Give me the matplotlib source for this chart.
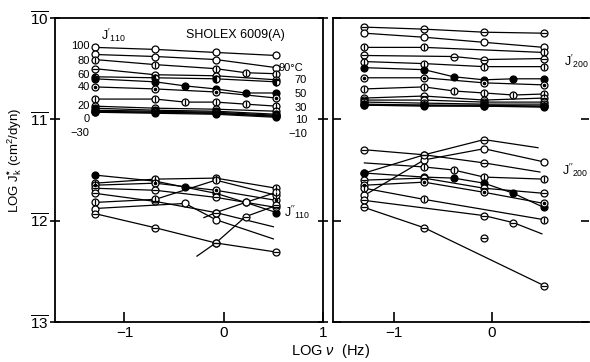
import numpy as np
import matplotlib
matplotlib.use("Agg")
import matplotlib.pyplot as plt

plt.rcParams['font.family'] = ['Liberation Sans', 'DejaVu Sans']
plt.rcParams['mathtext.fontset'] = 'custom'
plt.rcParams['mathtext.rm'] = 'Liberation Sans'
plt.rcParams['mathtext.it'] = 'Liberation Sans:italic'
plt.rcParams['mathtext.bf'] = 'Liberation Sans:bold'
plt.rcParams['axes.unicode_minus'] = True

nan = np.nan

# measuring frequencies (log Hz), shared by both panels
log_nu = [-1.30, -0.69, -0.39, -0.08, 0.22, 0.53]

# ---- J'110 (storage, left top), one row per temperature
temps_110 = [100, 90, 80, 70, 60, 50, 40, 30, 20, 10, 0, -10, -20, -30]
jp110 = [
    [-10.29, -10.31, nan, -10.34, nan, -10.37],
    [-10.36, -10.38, nan, -10.41, nan, -10.49],
    [-10.41, -10.46, nan, -10.50, -10.54, -10.55],
    [-10.50, -10.56, nan, -10.57, nan, -10.61],
    [-10.58, -10.59, nan, -10.60, nan, -10.63],
    [-10.60, -10.63, -10.67, -10.70, -10.74, -10.74],
    [-10.68, -10.70, nan, -10.73, nan, -10.79],
    [-10.80, -10.80, -10.83, -10.83, -10.85, -10.87],
    [-10.87, -10.89, nan, -10.90, nan, -10.92],
    [-10.89, -10.91, nan, -10.92, nan, -10.95],
    [-10.91, -10.92, nan, -10.93, nan, -10.96],
    [-10.92, -10.93, nan, -10.94, nan, -10.97],
    [-10.93, -10.93, nan, -10.94, nan, -10.97],
    [-10.93, -10.94, nan, -10.95, nan, -10.98],
]
jp110_kind = ['o', 'o', 'v', 'h', 'l', 'f', 'd', 'v', 'h', 'f', 'l', 'f', 'o', 'f']
left_labels = ['100', '80', '60', '40', '20', '0', '\u221230']
left_label_y = [-10.28, -10.42, -10.56, -10.68, -10.87, -11.00, -11.13]
right_labels = ['70', '50', '30', '10', '\u221210']
right_label_y = [-10.61, -10.75, -10.89, -11.01, -11.14]

# ---- J''110 (loss, left bottom): (log nu, log J'') per curve
jpp110 = [
    ([-1.30, -0.69, -0.39, -0.08, 0.22, 0.53], [-11.55, -11.61, -11.67, -11.73, -11.82, -11.92]),
    ([-1.30, -0.69, -0.08, 0.53], [-11.63, -11.59, -11.58, -11.68]),
    ([-1.30, -0.69, -0.08, 0.53], [-11.65, -11.63, -11.70, -11.80]),
    ([-1.30, -0.69, -0.08, 0.53], [-11.68, -11.70, -11.77, -11.87]),
    ([-1.30, -0.69, -0.08, 0.50], [-11.73, -11.81, -11.92, -12.06]),
    ([-1.30, -0.69, -0.08, 0.53], [-11.82, -11.79, -11.60, -11.75]),
    ([-1.30, -0.39, -0.08, 0.50], [-11.88, -11.83, -11.99, -12.18]),
    ([-1.30, -0.69, -0.08, 0.53], [-11.93, -12.07, -12.22, -12.31]),
    ([-0.20, -0.08, 0.22, 0.53], [-11.97, -11.92, -11.82, -11.72]),
    ([-0.27, -0.08, 0.22, 0.53], [-12.35, -12.22, -11.96, -11.85]),
]
jpp110_kind = ['f', 'v', 'd', 'h', 'h', 'v', 'o', 'h', 'o', 'h']
jpp110_bare = [[], [], [], [], [3], [], [3], [], [0], [0]]

# ---- J'200 (storage, right top)
jp200 = [
    [-10.09, -10.11, nan, -10.14, nan, -10.15],
    [-10.15, -10.19, nan, -10.24, nan, -10.29],
    [-10.29, -10.29, nan, nan, nan, -10.34],
    [-10.37, nan, -10.38, -10.41, nan, -10.40],
    [-10.43, -10.45, nan, -10.48, nan, -10.48],
    [-10.49, -10.51, -10.58, -10.61, -10.60, -10.60],
    [-10.59, -10.59, nan, -10.64, nan, -10.66],
    [-10.70, -10.68, -10.72, -10.74, -10.76, -10.75],
    [-10.79, -10.77, nan, -10.81, nan, -10.79],
    [-10.81, -10.81, nan, -10.83, nan, -10.83],
    [-10.83, -10.84, nan, -10.85, nan, -10.85],
    [-10.85, -10.86, nan, -10.86, nan, -10.87],
    [-10.86, -10.86, nan, -10.87, nan, -10.87],
    [-10.86, -10.87, nan, -10.87, nan, -10.88],
]
jp200_kind = ['h', 'o', 'v', 'h', 'v', 'f', 'd', 'v', 'h', 'o', 'v', 'f', 'h', 'f']

# ---- J''200 (loss, right bottom)
jpp200 = [
    ([-1.30, -0.69, -0.08, 0.47], [-11.53, -11.35, -11.20, -11.28]),
    ([-1.30, -0.69, -0.08, 0.53], [-11.75, -11.40, -11.29, -11.42]),
    ([-1.30, -0.69, -0.08, 0.49], [-11.30, -11.35, -11.43, -11.52]),
    ([-1.30, -0.69, -0.39, -0.08, 0.53], [-11.43, -11.47, -11.50, -11.57, -11.59]),
    ([-1.30, -0.69, -0.39, -0.08, 0.22, 0.53], [-11.53, -11.57, -11.58, -11.63, -11.73, -11.87]),
    ([-1.30, -0.69, -0.08, 0.53], [-11.60, -11.58, -11.68, -11.73]),
    ([-1.30, -0.69, -0.08, 0.53], [-11.65, -11.62, -11.72, -11.83]),
    ([-1.30, -0.69, 0.53], [-11.68, -11.79, -11.99]),
    ([-1.30, -0.08, 0.22, 0.51], [-11.80, -11.95, -12.02, -12.13]),
    ([-1.30, -0.69, 0.53], [-11.87, -12.07, -12.64]),
    ([-0.08], [-12.17]),
]
jpp200_kind = ['h', 'o', 'h', 'v', 'f', 'h', 'd', 'v', 'h', 'h', 'h']
jpp200_bare = [[3], [], [3], [0], [], [], [], [], [3], [], []]


def draw_curve(ax, x, y, kind, bare=()):
    x = np.asarray(x, float)
    y = np.asarray(y, float)
    ok = ~np.isnan(y)
    if ok.sum() > 1:
        ax.plot(x[ok], y[ok], '-', color='k', lw=0.9, zorder=2)
    m = ok & np.array([i not in bare for i in range(len(x))])
    xm, ym = x[m], y[m]
    ms = 5.0
    if kind == 'l':
        ax.plot(xm, ym, ls='none', marker='o', ms=ms, fillstyle='left',
                mfc='k', mfcalt='white', mec='k', mew=0.9, zorder=3)
        return
    face = 'k' if kind == 'f' else 'white'
    ax.plot(xm, ym, ls='none', marker='o', ms=ms, mfc=face, mec='k', mew=0.9, zorder=3)
    if kind == 'v':
        ax.plot(xm, ym, ls='none', marker='|', ms=ms, color='k', mew=0.9, zorder=4)
    elif kind == 'h':
        ax.plot(xm, ym, ls='none', marker='_', ms=ms, color='k', mew=0.9, zorder=4)
    elif kind == 'd':
        ax.plot(xm, ym, ls='none', marker='o', ms=1.6, color='k', zorder=4)


fig = plt.figure(figsize=(5.9, 3.62), dpi=100)
ax1 = fig.add_axes([55 / 590, 40 / 362, 268 / 590, 304 / 362])
ax2 = fig.add_axes([333 / 590, 40 / 362, 256 / 590, 304 / 362])

for ax in (ax1, ax2):
    ax.set_ylim(-13, -10)
    for s in ax.spines.values():
        s.set_linewidth(1.3)
    ax.tick_params(axis='x', direction='in', length=7, width=1.2, pad=3, labelsize=11)
    ax.tick_params(axis='y', direction='in', length=6, width=1.2, right=True)

ax2.spines['right'].set_visible(False)

ax1.set_xlim(-1.70, 1.0)
ax2.set_xlim(-1.62, 0.99)
ax1.set_xticks([-1, 0, 1])
ax1.set_xticklabels(['\u22121', '0', '1'])
ax2.set_xticks([-1, 0])
ax2.set_xticklabels(['\u22121', '0'])

ax1.set_yticks([-13, -12, -11, -10])
ax1.set_yticklabels([r'$\overline{13}$', r'$\overline{12}$', r'$\overline{11}$', r'$\overline{10}$'])
ax1.tick_params(axis='y', direction='inout', length=7, labelsize=11, pad=1)
ax2.set_yticks([-13, -12, -11, -10])
ax2.set_yticklabels([])

# left panel
for row, kind in zip(jp110, jp110_kind):
    draw_curve(ax1, log_nu, row, kind)
for (x, y), kind, bare in zip(jpp110, jpp110_kind, jpp110_bare):
    draw_curve(ax1, x, y, kind, bare)

for lab, yy in zip(left_labels, left_label_y):
    ax1.text(-1.35, yy, lab, ha='right', va='center', fontsize=8)
for lab, yy in zip(right_labels, right_label_y):
    ax1.text(0.84, yy, lab, ha='right', va='center', fontsize=8)
ax1.text(0.55, -10.49, '90\u00b0C', ha='left', va='center', fontsize=8)
ax1.text(-1.24, -10.17, r"$\mathregular{J'_{110}}$", ha='left', va='center', fontsize=9)
ax1.text(-0.38, -10.17, 'SHOLEX 6009(A)', ha='left', va='center', fontsize=9)
ax1.text(0.61, -11.92, r"$\mathregular{J''_{110}}$", ha='left', va='center', fontsize=9)

# right panel
for row, kind in zip(jp200, jp200_kind):
    draw_curve(ax2, log_nu, row, kind)
for (x, y), kind, bare in zip(jpp200, jpp200_kind, jpp200_bare):
    draw_curve(ax2, x, y, kind, bare)
ax2.text(0.74, -10.43, r"$\mathregular{J'_{200}}$", ha='left', va='center', fontsize=9)
ax2.text(0.71, -11.50, r"$\mathregular{J''_{200}}$", ha='left', va='center', fontsize=9)

fig.text(15 / 590, 1 - 160 / 362, r'LOG J$^{\mathbf{*}}_{\mathrm{k}}$ (cm$^{\mathrm{2}}$/dyn)',
         rotation=90, ha='center', va='center', fontsize=9.5)
fig.text(331 / 590, 1 - 351 / 362, r'LOG $\nu$  (Hz)', ha='center', va='center', fontsize=10.5)

fig.savefig('out.png', dpi=100)
